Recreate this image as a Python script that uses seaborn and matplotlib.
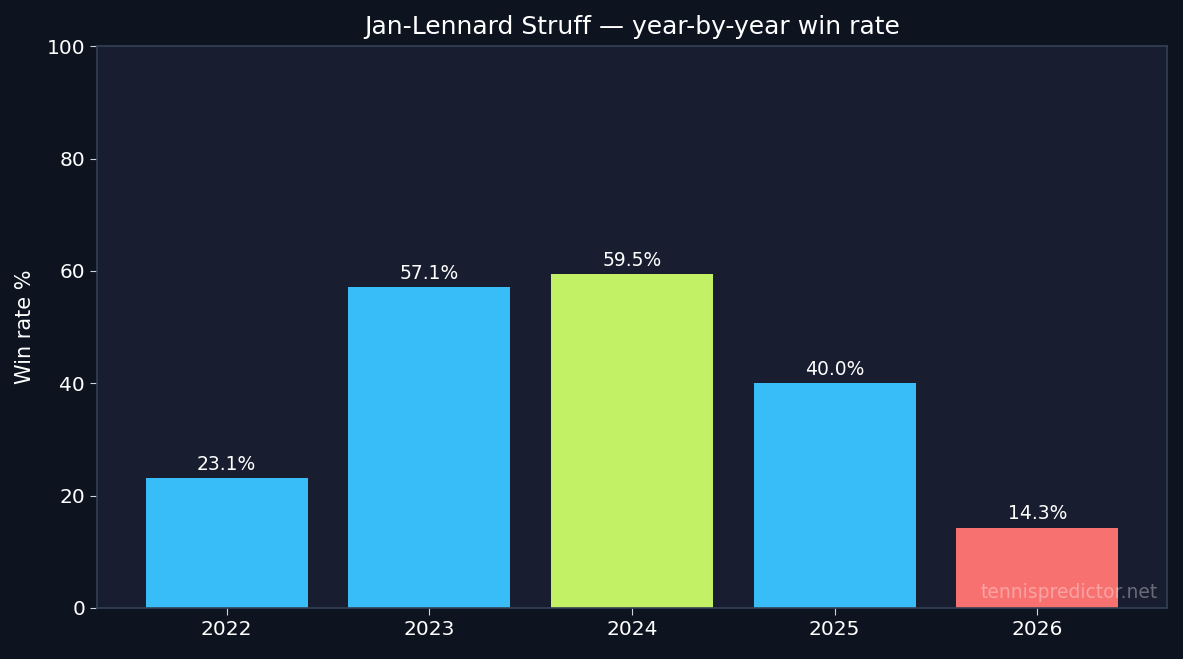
import matplotlib
matplotlib.use("Agg")
import matplotlib.pyplot as plt
import seaborn as sns
import pandas as pd

years = ["2022", "2023", "2024", "2025", "2026"]
win_rates = [23.1, 57.1, 59.5, 40.0, 14.3]
bar_colors = ["#38bdf8", "#38bdf8", "#c3f166", "#38bdf8", "#f87171"]

BG = "#0e1320"
PANEL = "#181d2f"
EDGE = "#334155"

plt.rcParams["font.family"] = ["DejaVu Sans"]

df = pd.DataFrame({"year": years, "rate": win_rates})

fig, ax = plt.subplots(figsize=(11.83, 6.59), dpi=100)
fig.patch.set_facecolor(BG)
ax.set_facecolor(PANEL)

sns.barplot(data=df, x="year", y="rate", hue="year", palette=bar_colors,
            legend=False, width=0.8, saturation=1, edgecolor="none", ax=ax)

# value labels above bars
for p, v in zip(ax.patches, win_rates):
    ax.annotate(f"{v:.1f}%", (p.get_x() + p.get_width() / 2, p.get_height()),
                xytext=(0, 3), textcoords="offset points", ha="center", va="bottom",
                color="white", fontsize=13.5)

ax.set_xlim(-0.64, len(years) - 0.36)
ax.set_ylim(0, 100)
ax.set_title("Jan-Lennard Struff — year-by-year win rate", color="white", fontsize=18, pad=9)
ax.set_xlabel("")
ax.set_ylabel("Win rate %", color="white", fontsize=15, labelpad=8)
ax.tick_params(colors="white", labelsize=14.5, length=5, color="#cbd5e1")
for s in ax.spines.values():
    s.set_color(EDGE)
    s.set_linewidth(1.2)
ax.grid(False)

ax.text(0.991, 0.011, "tennispredictor.net", transform=ax.transAxes, ha="right", va="bottom",
        color="white", alpha=0.35, fontsize=13.5)

fig.subplots_adjust(left=0.082, right=0.9865, top=0.930, bottom=0.0774)
plt.savefig("out.png", dpi=100, facecolor=BG)
